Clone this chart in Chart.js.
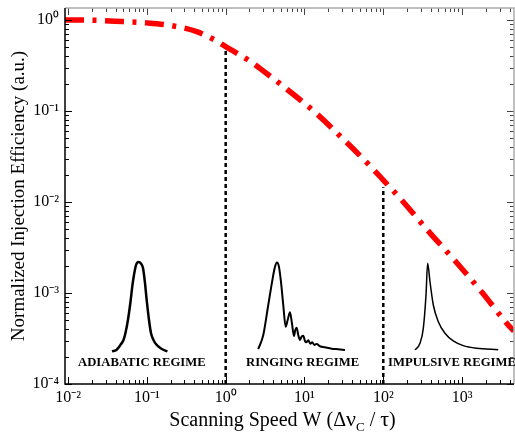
<!DOCTYPE html>
<html>
<head>
<meta charset="utf-8">
<script src="https://cdn.jsdelivr.net/npm/chart.js@4.4.1/dist/chart.umd.min.js"></script>
<style>
  html, body { margin: 0; padding: 0; background: #fff; }
  #wrap { width: 515px; height: 435px; }
</style>
</head>
<body>
<div id="wrap"><canvas id="chart"></canvas></div>
<script>
// main curve: injection efficiency vs scanning speed
const speedW = [0.00914, 0.02, 0.05, 0.1, 0.2, 0.43, 0.75, 1.0, 1.43, 2.08, 2.72, 5.33, 13.6, 31.9, 74.7, 100, 168, 363, 813, 1766, 3680, 4560];
const efficiency = [1.0, 0.995, 0.96, 0.93, 0.87, 0.745, 0.593, 0.51, 0.425, 0.348, 0.294, 0.188, 0.0968, 0.048, 0.0229, 0.0174, 0.0107, 0.00492, 0.00226, 0.00103, 0.000465, 0.00038];

// regime boundaries (dotted lines)
const boundaryW = [1, 100];
const boundaryTop = [0.47, 0.0145];
const floorEff = 1e-4;

// inset pulse shapes
const adiabaticW = [0.0361, 0.0411, 0.0462, 0.0505, 0.0535, 0.0575, 0.0619, 0.0656, 0.0686, 0.0728, 0.0782, 0.0841, 0.0893, 0.0946, 0.0994, 0.1064, 0.1127, 0.1213, 0.1303, 0.1510, 0.1824];
const adiabaticAmp = [2.28e-4, 2.37e-4, 2.69e-4, 3.05e-4, 3.63e-4, 5.05e-4, 7.96e-4, 1.22e-3, 1.58e-3, 2.03e-3, 2.19e-3, 2.11e-3, 1.88e-3, 1.29e-3, 8.38e-4, 5.05e-4, 3.63e-4, 3.05e-4, 2.75e-4, 2.45e-4, 2.28e-4];

const ringingW = [2.59, 3.00, 3.47, 3.95, 4.23, 4.48, 4.74, 5.03, 5.38, 5.77, 6.12, 6.55, 6.93, 7.36, 7.64, 7.96, 8.34, 8.77, 9.20, 9.66, 10.14, 10.54, 11.17, 11.85, 12.56, 13.31, 14.29, 15.73, 18.20, 22.14, 26.85, 32.66];
const ringingAmp = [2.42e-4, 3.45e-4, 7.38e-4, 1.45e-3, 1.95e-3, 2.17e-3, 1.95e-3, 1.33e-3, 7.38e-4, 4.26e-4, 5.05e-4, 6.14e-4, 4.65e-4, 3.37e-4, 3.92e-4, 4.16e-4, 3.45e-4, 3.05e-4, 3.31e-4, 3.40e-4, 2.97e-4, 2.87e-4, 3.03e-4, 2.77e-4, 2.87e-4, 2.69e-4, 2.75e-4, 2.60e-4, 2.53e-4, 2.44e-4, 2.41e-4, 2.37e-4];

const impulsiveW = [252.3, 292.4, 322.1, 348.6, 365.6, 391.5, 431.5, 499.3, 606.7, 772.7, 1035, 1531, 2877];
const impulsiveAmp = [2.37e-4, 2.80e-4, 4.09e-4, 9.51e-4, 2.12e-3, 1.33e-3, 7.38e-4, 4.84e-4, 3.61e-4, 2.97e-4, 2.64e-4, 2.47e-4, 2.38e-4];

// regime captions, anchored at their left edge
const regimeNames = ['ADIABATIC REGIME', 'RINGING REGIME', 'IMPULSIVE REGIME'];
const regimeW = [0.01336, 1.81, 114.8];
const regimeAmp = [1.7e-4, 1.7e-4, 1.7e-4];

// tick labels
const xTickValues = [0.01, 0.1, 1, 10, 100, 1000];
const xTickLabels = ['10⁻²', '10⁻¹', '10⁰', '10¹', '10²', '10³'];
const yTickValues = [1e-4, 1e-3, 1e-2, 1e-1, 1];
const yTickLabels = ['10⁻⁴', '10⁻³', '10⁻²', '10⁻¹', '10⁰'];

const serif = "'Liberation Serif', 'Times New Roman', serif";
Chart.defaults.font.family = serif;
Chart.defaults.color = '#000';

const toPoints = (xs, ys) => xs.map((v, i) => ({ x: v, y: ys[i] }));

const labelFor = (values, labels) => (v) => {
  const i = values.findIndex(t => Math.abs(Math.log10(t) - Math.log10(v)) < 1e-6);
  return i >= 0 ? labels[i] : '';
};

const logSteps = (min, max) => {
  const out = [];
  for (let e = Math.floor(Math.log10(min)); e <= Math.ceil(Math.log10(max)); e++) {
    for (let k = 1; k <= 9; k++) {
      const v = k * Math.pow(10, e);
      if (v >= min && v <= max) out.push({ v, major: k === 1 });
    }
  }
  return out;
};

// inward ticks on all four sides plus the frame
const frameTicks = {
  id: 'frameTicks',
  afterDatasetsDraw(chart) {
    const { ctx, chartArea: a, scales: { x, y } } = chart;
    ctx.save();
    ctx.lineWidth = 1;
    logSteps(x.min, x.max).forEach(t => {
      const px = Math.round(x.getPixelForValue(t.v)) + 0.5;
      const len = t.major ? 7 : 4;
      ctx.strokeStyle = '#000';
      ctx.beginPath(); ctx.moveTo(px, a.bottom); ctx.lineTo(px, a.bottom - len); ctx.stroke();
      ctx.strokeStyle = '#444';
      ctx.beginPath(); ctx.moveTo(px, a.top); ctx.lineTo(px, a.top + len); ctx.stroke();
    });
    logSteps(y.min, y.max).forEach(t => {
      const py = Math.round(y.getPixelForValue(t.v)) + 0.5;
      const len = t.major ? 7 : 4;
      ctx.strokeStyle = '#000';
      ctx.beginPath(); ctx.moveTo(a.left, py); ctx.lineTo(a.left + len, py); ctx.stroke();
      ctx.strokeStyle = '#444';
      ctx.beginPath(); ctx.moveTo(a.right, py); ctx.lineTo(a.right - len, py); ctx.stroke();
    });
    ctx.lineWidth = 1.5;
    ctx.strokeStyle = '#aaa';
    ctx.beginPath();
    ctx.moveTo(a.left, a.top); ctx.lineTo(a.right, a.top); ctx.lineTo(a.right, a.bottom);
    ctx.stroke();
    ctx.strokeStyle = '#000';
    ctx.beginPath();
    ctx.moveTo(a.left, a.top); ctx.lineTo(a.left, a.bottom); ctx.lineTo(a.right, a.bottom);
    ctx.stroke();

    // regime captions
    ctx.fillStyle = '#000';
    ctx.font = `bold 12.7px ${serif}`;
    ctx.textAlign = 'left';
    ctx.textBaseline = 'middle';
    regimeNames.forEach((name, i) => {
      ctx.fillText(name, x.getPixelForValue(regimeW[i]), y.getPixelForValue(regimeAmp[i]));
    });
    ctx.restore();
  },
  afterDraw(chart) {
    // x axis title with subscript
    const { ctx, chartArea: a } = chart;
    const parts = [
      { t: 'Scanning Speed W (Δ', f: `20px ${serif}`, dy: 0 },
      { t: 'ν', f: `22px ${serif}`, dy: 0 },
      { t: 'C', f: `13px ${serif}`, dy: 5 },
      { t: ' / ', f: `20px ${serif}`, dy: 0 },
      { t: 'τ', f: `22px ${serif}`, dy: 0 },
      { t: ')', f: `20px ${serif}`, dy: 0 }
    ];
    ctx.save();
    ctx.fillStyle = '#000';
    ctx.textBaseline = 'alphabetic';
    let total = 0;
    parts.forEach(p => { ctx.font = p.f; p.w = ctx.measureText(p.t).width; total += p.w; });
    let cx = (a.left + a.right) / 2 - 7 - total / 2;
    const base = a.bottom + 42;
    parts.forEach(p => { ctx.font = p.f; ctx.fillText(p.t, cx, base + p.dy); cx += p.w; });
    ctx.restore();
  }
};

const insetStyle = (w) => ({
  borderColor: '#000', borderWidth: w, pointRadius: 0, fill: false,
  cubicInterpolationMode: 'monotone'
});

new Chart(document.getElementById('chart'), {
  type: 'line',
  data: {
    datasets: [
      {
        data: toPoints(speedW, efficiency),
        borderColor: '#ff0000', borderWidth: 5.5, borderDash: [19, 8.5, 4, 8.5],
        borderCapStyle: 'butt', pointRadius: 0, fill: false,
        cubicInterpolationMode: 'monotone'
      },
      ...boundaryW.map((w, i) => ({
        data: [{ x: w, y: floorEff }, { x: w, y: boundaryTop[i] }],
        borderColor: '#000', borderWidth: 2.5, borderDash: [4, 3], pointRadius: 0, fill: false
      })),
      { data: toPoints(adiabaticW, adiabaticAmp), ...insetStyle(2.5) },
      { data: toPoints(ringingW, ringingAmp), ...insetStyle(2) },
      { data: toPoints(impulsiveW, impulsiveAmp), ...insetStyle(1.5) }
    ]
  },
  options: {
    responsive: true,
    maintainAspectRatio: false,
    animation: false,
    devicePixelRatio: 1,
    layout: { padding: { top: 8, right: 1, left: 0, bottom: 0 } },
    plugins: { legend: { display: false }, tooltip: { enabled: false } },
    scales: {
      x: {
        type: 'logarithmic',
        min: 0.00914,
        max: 4560,
        grid: { display: false, drawTicks: false },
        border: { display: false },
        afterBuildTicks: s => { s.ticks = xTickValues.map(v => ({ value: v })); },
        afterFit: s => { s.height = 51; s.paddingLeft = 0; s.paddingRight = 0; },
        ticks: {
          callback: labelFor(xTickValues, xTickLabels),
          autoSkip: false, maxRotation: 0, padding: 4,
          font: { size: 16, family: serif }, color: '#000'
        }
      },
      y: {
        type: 'logarithmic',
        min: 1e-4,
        max: 1.355,
        grid: { display: false, drawTicks: false },
        border: { display: false },
        afterBuildTicks: s => { s.ticks = yTickValues.map(v => ({ value: v })); },
        afterFit: s => { s.width = 65; s.paddingTop = 0; s.paddingBottom = 0; },
        ticks: {
          callback: labelFor(yTickValues, yTickLabels),
          autoSkip: false, padding: 6,
          font: { size: 16, family: serif }, color: '#000'
        },
        title: {
          display: true,
          text: 'Normalized Injection Efficiency (a.u.)',
          font: { size: 19, family: serif },
          color: '#000',
          padding: { top: 8, bottom: 0 }
        }
      }
    }
  },
  plugins: [frameTicks]
});
</script>
</body>
</html>
